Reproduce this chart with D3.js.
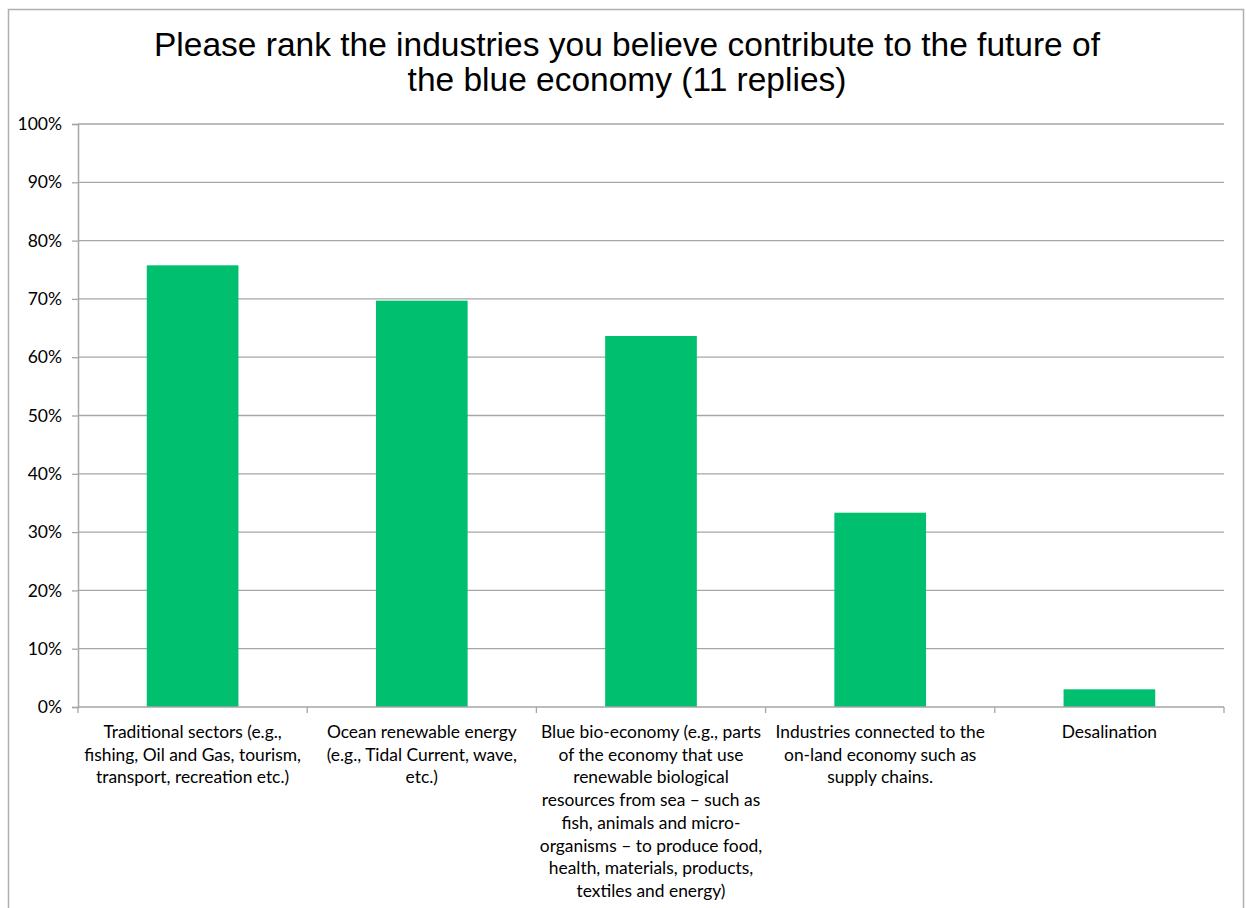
<!DOCTYPE html>
<html>
<head>
<meta charset="utf-8">
<script src="https://cdn.jsdelivr.net/npm/d3@7"></script>
<style>
  html, body { margin: 0; padding: 0; background: #fff; }
  svg { display: block; }
</style>
</head>
<body>
<svg id="chart" width="1246" height="908"></svg>
<script>
const titleLines = ["Please rank the industries you believe contribute to the future of", "the blue economy (11 replies)"];
const categories = [
  ["Traditional sectors (e.g.,", "fishing, Oil and Gas, tourism,", "transport, recreation etc.)"],
  ["Ocean renewable energy", "(e.g., Tidal Current, wave,", "etc.)"],
  ["Blue bio-economy (e.g., parts", "of the economy that use", "renewable biological", "resources from sea – such as", "fish, animals and micro-", "organisms – to produce food,", "health, materials, products,", "textiles and energy)"],
  ["Industries connected to the", "on-land economy such as", "supply chains."],
  ["Desalination"]
];
const values = [0.7576, 0.6970, 0.6364, 0.3333, 0.0303];
const yTicks = [0, 0.1, 0.2, 0.3, 0.4, 0.5, 0.6, 0.7, 0.8, 0.9, 1.0];

const svg = d3.select("#chart");
const W = 1246, H = 908;
const m = { left: 78, right: 22, top: 124, bottom: 201 };
const x = d3.scaleBand().domain(d3.range(categories.length)).range([m.left, W - m.right]).paddingInner(0.6).paddingOuter(0.3);
const y = d3.scaleLinear().domain([0, 1]).range([H - m.bottom, m.top]);

const grey = "#a6a6a6";
const labelFont = "Lato, 'Open Sans', sans-serif";

// chart border
svg.append("path")
  .attr("d", `M8.5,${H} V9.5 H1243.5 V${H}`)
  .attr("fill", "none").attr("stroke", "#b0b0b0").attr("stroke-width", 1.5);

// title
svg.append("text")
  .attr("x", 627).attr("y", 56)
  .attr("text-anchor", "middle")
  .attr("font-family", "'Liberation Sans', Arial, sans-serif")
  .attr("font-size", 33.5).attr("fill", "#000")
  .selectAll("tspan").data(titleLines).join("tspan")
  .attr("x", 627).attr("dy", (d, i) => i === 0 ? 0 : 35).text(d => d);

// gridlines
svg.append("g").selectAll("line").data(yTicks.filter(d => d > 0)).join("line")
  .attr("x1", m.left).attr("x2", W - m.right)
  .attr("y1", d => y(d)).attr("y2", d => y(d))
  .attr("stroke", grey).attr("stroke-width", 1.3);

// y axis
const yAxis = svg.append("g").attr("transform", `translate(${m.left},0)`)
  .call(d3.axisLeft(y).tickValues(yTicks).tickFormat(d3.format(".0%")).tickSize(6).tickPadding(10));
yAxis.select(".domain").attr("stroke", grey).attr("stroke-width", 1.5);
yAxis.selectAll(".tick line").attr("stroke", grey).attr("stroke-width", 1.3);
yAxis.selectAll(".tick text").attr("font-family", labelFont).attr("font-size", 17.5).attr("fill", "#000");

// bars
svg.append("g").selectAll("rect").data(values).join("rect")
  .attr("x", (d, i) => x(i)).attr("width", x.bandwidth())
  .attr("y", d => y(d)).attr("height", d => y(0) - y(d))
  .attr("fill", "#00bf6f");

// x axis
const step = x.step();
const boundaries = d3.range(categories.length + 1).map(i => m.left + i * step);
svg.append("line").attr("x1", m.left).attr("x2", W - m.right)
  .attr("y1", y(0)).attr("y2", y(0)).attr("stroke", grey).attr("stroke-width", 1.5);
svg.append("g").selectAll("line").data(boundaries).join("line")
  .attr("x1", d => d).attr("x2", d => d)
  .attr("y1", y(0)).attr("y2", y(0) + 6)
  .attr("stroke", grey).attr("stroke-width", 1.3);

// category labels
svg.append("g").selectAll("text").data(categories).join("text")
  .attr("text-anchor", "middle")
  .attr("font-family", labelFont).attr("font-size", 17.4).attr("fill", "#000")
  .each(function(lines, i) {
    const cx = x(i) + x.bandwidth() / 2;
    d3.select(this).selectAll("tspan").data(lines).join("tspan")
      .attr("x", cx).attr("y", (d, j) => y(0) + 31 + j * 22.7).text(d => d);
  });
</script>
</body>
</html>
